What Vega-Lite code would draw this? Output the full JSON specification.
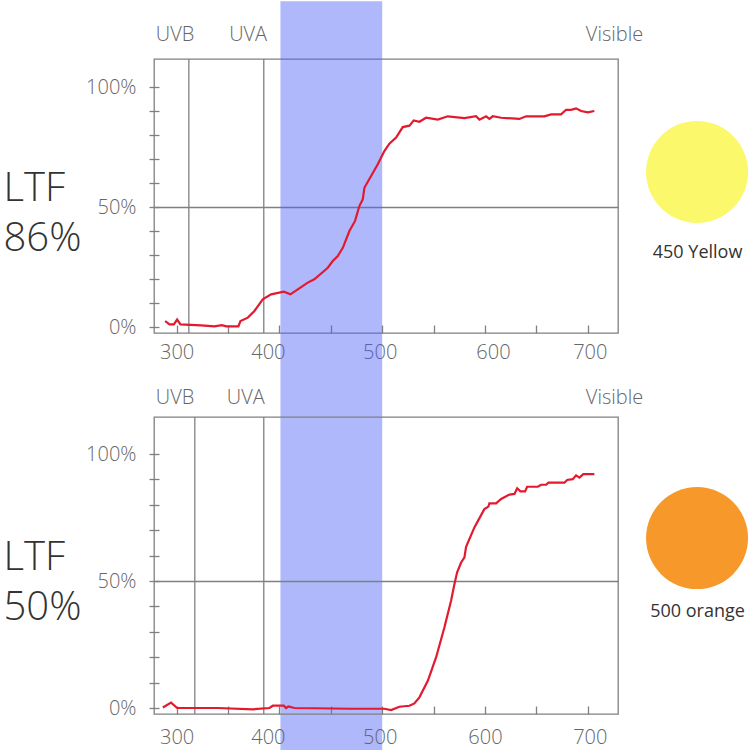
{
  "$schema": "https://vega.github.io/schema/vega-lite/v6.json",
  "background": "white",
  "padding": {"left": 2, "top": 0, "right": 0, "bottom": 0},
  "bounds": "flush",
  "spacing": 84,
  "config": {
    "view": {"stroke": "#808080", "strokeWidth": 1.3},
    "font": "Open Sans",
    "axis": {"labelFont": "Open Sans", "titleFont": "Open Sans"}
  },
  "datasets": {
    "band": [{"start": 401, "end": 500}],
    "top_bounds": [{"nm": 311.9}, {"nm": 384.8}],
    "bottom_bounds": [{"nm": 317.7}, {"nm": 384.8}],
    "top_labels": [{"nm": 298.5, "label": "UVB"}, {"nm": 369.6, "label": "UVA"}, {"nm": 726, "label": "Visible"}],
    "bottom_labels": [{"nm": 298.5, "label": "UVB"}, {"nm": 367.3, "label": "UVA"}, {"nm": 726, "label": "Visible"}],
    "top_curve": [
      {"nm": 288.8, "ltf": 2.5}, {"nm": 293, "ltf": 1.1}, {"nm": 297.3, "ltf": 1.1}, {"nm": 300.5, "ltf": 3.1},
      {"nm": 303.7, "ltf": 1.1}, {"nm": 323.8, "ltf": 0.7}, {"nm": 336.8, "ltf": 0.3}, {"nm": 344, "ltf": 0.8},
      {"nm": 348.2, "ltf": 0.3}, {"nm": 360.1, "ltf": 0.3}, {"nm": 362.1, "ltf": 2.5}, {"nm": 369.3, "ltf": 3.9},
      {"nm": 375.7, "ltf": 6.7}, {"nm": 383.8, "ltf": 11.5}, {"nm": 391.9, "ltf": 13.6}, {"nm": 404.3, "ltf": 14.7},
      {"nm": 410.7, "ltf": 13.6}, {"nm": 417.9, "ltf": 15.7}, {"nm": 427.6, "ltf": 18.5}, {"nm": 434, "ltf": 19.9},
      {"nm": 447.1, "ltf": 24.7}, {"nm": 451.9, "ltf": 27.5}, {"nm": 456.8, "ltf": 29.6}, {"nm": 461.7, "ltf": 33},
      {"nm": 468.1, "ltf": 40}, {"nm": 473.6, "ltf": 44.2}, {"nm": 477.8, "ltf": 50.4}, {"nm": 481.1, "ltf": 53.2},
      {"nm": 482.7, "ltf": 58}, {"nm": 489.2, "ltf": 62.9}, {"nm": 495.7, "ltf": 67.8}, {"nm": 502.1, "ltf": 73.3},
      {"nm": 507, "ltf": 76.4}, {"nm": 513.5, "ltf": 78.9}, {"nm": 515.8, "ltf": 80.5}, {"nm": 520, "ltf": 83.3},
      {"nm": 526.5, "ltf": 83.9}, {"nm": 530.7, "ltf": 86.1}, {"nm": 536.2, "ltf": 85.5}, {"nm": 542.7, "ltf": 87.2},
      {"nm": 554.1, "ltf": 86.4}, {"nm": 563.8, "ltf": 87.8}, {"nm": 580, "ltf": 87}, {"nm": 591.3, "ltf": 87.8},
      {"nm": 594.6, "ltf": 86.4}, {"nm": 601.1, "ltf": 87.8}, {"nm": 604.3, "ltf": 86.7}, {"nm": 607.6, "ltf": 87.8},
      {"nm": 615.7, "ltf": 87.2}, {"nm": 633.5, "ltf": 86.7}, {"nm": 640, "ltf": 87.8}, {"nm": 657.8, "ltf": 87.8},
      {"nm": 664.3, "ltf": 88.6}, {"nm": 674, "ltf": 88.6}, {"nm": 678.9, "ltf": 90.5}, {"nm": 683.8, "ltf": 90.5},
      {"nm": 688.6, "ltf": 91.1}, {"nm": 693.5, "ltf": 90}, {"nm": 700, "ltf": 89.4}, {"nm": 706.4, "ltf": 90}
    ],
    "bottom_curve": [
      {"nm": 286.6, "ltf": 0.2}, {"nm": 294.6, "ltf": 2.1}, {"nm": 300.5, "ltf": 0}, {"nm": 340.1, "ltf": 0},
      {"nm": 374.1, "ltf": -0.5}, {"nm": 390.3, "ltf": 0}, {"nm": 393.6, "ltf": 0.9}, {"nm": 404.3, "ltf": 0.9},
      {"nm": 406.5, "ltf": 0}, {"nm": 408.8, "ltf": 0.6}, {"nm": 414.6, "ltf": 0}, {"nm": 469.7, "ltf": -0.3},
      {"nm": 502.1, "ltf": -0.3}, {"nm": 508.7, "ltf": -0.8}, {"nm": 516.7, "ltf": 0.5}, {"nm": 526.5, "ltf": 0.9},
      {"nm": 531.3, "ltf": 1.8}, {"nm": 536.2, "ltf": 4.2}, {"nm": 544.4, "ltf": 10.7}, {"nm": 552.4, "ltf": 19.9},
      {"nm": 560.5, "ltf": 31.7}, {"nm": 567, "ltf": 42.2}, {"nm": 570.3, "ltf": 48.8}, {"nm": 572.9, "ltf": 53.4},
      {"nm": 576.8, "ltf": 57.3}, {"nm": 580, "ltf": 59.3}, {"nm": 581.6, "ltf": 63.5}, {"nm": 589.7, "ltf": 71.1},
      {"nm": 599.4, "ltf": 78.3}, {"nm": 603.3, "ltf": 79.3}, {"nm": 604.3, "ltf": 80.6}, {"nm": 610.8, "ltf": 80.6},
      {"nm": 615.7, "ltf": 82.3}, {"nm": 623.8, "ltf": 84}, {"nm": 628.7, "ltf": 84.3}, {"nm": 631.3, "ltf": 86.5},
      {"nm": 634.5, "ltf": 85.3}, {"nm": 639, "ltf": 85.3}, {"nm": 641, "ltf": 87.1}, {"nm": 651.4, "ltf": 87.1},
      {"nm": 654.6, "ltf": 87.9}, {"nm": 659.5, "ltf": 87.9}, {"nm": 661.7, "ltf": 88.7}, {"nm": 677.3, "ltf": 88.7},
      {"nm": 679.9, "ltf": 89.8}, {"nm": 685.4, "ltf": 90.1}, {"nm": 688.6, "ltf": 91.6}, {"nm": 691.9, "ltf": 90.7},
      {"nm": 695.7, "ltf": 92.1}, {"nm": 706.4, "ltf": 92.1}
    ],
    "top_swatch": [{"label": "450 Yellow"}],
    "bottom_swatch": [{"label": "500 orange"}]
  },
  "vconcat": [
    {
      "width": 464,
      "height": 274,
      "layer": [
        {
          "data": {"name": "band"},
          "mark": {"type": "rect", "color": "#4b61f6", "opacity": 0.45},
          "encoding": {
            "x": {
              "field": "start", "type": "quantitative",
              "scale": {"domain": [278, 729.4], "nice": false, "zero": false},
              "axis": {
                "title": null, "domain": false, "offset": -8, "tickSize": 8, "tickColor": "#808080", "tickWidth": 1.3,
                "values": [300, 350, 400, 450, 500, 550, 600, 650, 700],
                "labelExpr": "datum.value % 100 === 0 ? datum.value : ''",
                "labelFontSize": 20, "labelFontWeight": 300, "labelColor": "#666666", "labelPadding": 9.5,
                "labelOffset": {"condition": [{"test": "datum.value === 400", "value": -11.5}, {"test": "datum.value === 500", "value": -2.5}, {"test": "datum.value === 600", "value": 8}, {"test": "datum.value === 700", "value": 2}], "value": 0},
                "grid": false
              }
            },
            "x2": {"field": "end"},
            "y": {
              "datum": 135.7, "type": "quantitative",
              "scale": {"domain": [-2.5, 111.67], "nice": false, "zero": false},
              "axis": {
                "domain": false, "offset": -5, "tickSize": 10, "tickColor": "#808080", "tickWidth": 1.3,
                "values": [0, 10, 20, 30, 40, 50, 60, 70, 80, 90, 100],
                "labelExpr": "datum.value % 50 === 0 ? datum.value + '%' : ''",
                "labelFontSize": 20, "labelFontWeight": 300, "labelColor": "#666666", "labelPadding": 13,
                "grid": true, "gridColor": "#808080", "gridWidth": 1.3,
                "gridOpacity": {"condition": {"test": "datum.value === 50", "value": 1}, "value": 0},
                "title": ["LTF", "86%"], "titleAngle": 0, "titleAlign": "left", "titleBaseline": "alphabetic",
                "titleX": -156, "titleY": 141.6, "titleFontSize": 40, "titleFontWeight": 300, "titleColor": "#333333", "titleLineHeight": 50
              }
            },
            "y2": {"datum": -185}
          }
        },
        {
          "data": {"name": "top_bounds"},
          "mark": {"type": "rule", "color": "#808080", "strokeWidth": 1.3},
          "encoding": {
            "x": {"field": "nm", "type": "quantitative", "scale": {"domain": [278, 729.4], "nice": false, "zero": false}, "axis": {"values": [300, 350, 400, 450, 500, 550, 600, 650, 700]}}
          }
        },
        {
          "data": {"name": "top_curve"},
          "mark": {"type": "line", "color": "#e3192f", "strokeWidth": 2.2},
          "encoding": {
            "x": {"field": "nm", "type": "quantitative", "scale": {"domain": [278, 729.4], "nice": false, "zero": false}, "axis": {"values": [300, 350, 400, 450, 500, 550, 600, 650, 700]}},
            "y": {"field": "ltf", "type": "quantitative", "scale": {"domain": [-2.5, 111.67], "nice": false, "zero": false}, "axis": {"values": [0, 10, 20, 30, 40, 50, 60, 70, 80, 90, 100]}}
          }
        },
        {
          "data": {"name": "top_labels"},
          "mark": {"type": "text", "fontSize": 20, "fontWeight": 300, "color": "#666666", "align": "center", "baseline": "middle"},
          "encoding": {
            "x": {"field": "nm", "type": "quantitative", "scale": {"domain": [278, 729.4], "nice": false, "zero": false}, "axis": {"values": [300, 350, 400, 450, 500, 550, 600, 650, 700]}},
            "y": {"datum": 121.5, "type": "quantitative", "scale": {"domain": [-2.5, 111.67], "nice": false, "zero": false}, "axis": {"values": [0, 10, 20, 30, 40, 50, 60, 70, 80, 90, 100]}},
            "text": {"field": "label"}
          }
        },
        {
          "data": {"name": "top_swatch"},
          "mark": {"type": "point", "shape": "circle", "filled": true, "size": 10404, "color": "#fbf86b", "opacity": 1, "strokeWidth": 0},
          "encoding": {
            "x": {"datum": 806.3, "type": "quantitative", "scale": {"domain": [278, 729.4], "nice": false, "zero": false}, "axis": {"values": [300, 350, 400, 450, 500, 550, 600, 650, 700]}},
            "y": {"datum": 64.6, "type": "quantitative", "scale": {"domain": [-2.5, 111.67], "nice": false, "zero": false}, "axis": {"values": [0, 10, 20, 30, 40, 50, 60, 70, 80, 90, 100]}}
          }
        },
        {
          "data": {"name": "top_swatch"},
          "mark": {"type": "text", "fontSize": 18, "fontWeight": 400, "color": "#333333", "align": "center", "baseline": "middle"},
          "encoding": {
            "x": {"datum": 806.8, "type": "quantitative", "scale": {"domain": [278, 729.4], "nice": false, "zero": false}, "axis": {"values": [300, 350, 400, 450, 500, 550, 600, 650, 700]}},
            "y": {"datum": 30.8, "type": "quantitative", "scale": {"domain": [-2.5, 111.67], "nice": false, "zero": false}, "axis": {"values": [0, 10, 20, 30, 40, 50, 60, 70, 80, 90, 100]}},
            "text": {"field": "label"}
          }
        }
      ]
    },
    {
      "width": 464,
      "height": 297,
      "layer": [
        {
          "data": {"name": "bottom_bounds"},
          "mark": {"type": "rule", "color": "#808080", "strokeWidth": 1.3},
          "encoding": {
            "x": {
              "field": "nm", "type": "quantitative",
              "scale": {"domain": [278, 729.4], "nice": false, "zero": false},
              "axis": {
                "title": null, "domain": false, "offset": -8, "tickSize": 8, "tickColor": "#808080", "tickWidth": 1.3,
                "values": [300, 350, 400, 450, 500, 550, 600, 650, 700],
                "labelExpr": "datum.value % 100 === 0 ? datum.value : ''",
                "labelFontSize": 20, "labelFontWeight": 300, "labelColor": "#666666", "labelPadding": 13.5,
                "labelOffset": {"condition": [{"test": "datum.value === 400", "value": -11.5}, {"test": "datum.value === 500", "value": -2.5}, {"test": "datum.value === 700", "value": 2}], "value": 0},
                "grid": false
              }
            }
          }
        },
        {
          "data": {"name": "bottom_curve"},
          "mark": {"type": "line", "color": "#e3192f", "strokeWidth": 2.2},
          "encoding": {
            "x": {"field": "nm", "type": "quantitative", "scale": {"domain": [278, 729.4], "nice": false, "zero": false}, "axis": {"values": [300, 350, 400, 450, 500, 550, 600, 650, 700]}},
            "y": {
              "field": "ltf", "type": "quantitative",
              "scale": {"domain": [-2.36, 114.57], "nice": false, "zero": false},
              "axis": {
                "domain": false, "offset": -5, "tickSize": 10, "tickColor": "#808080", "tickWidth": 1.3,
                "values": [0, 10, 20, 30, 40, 50, 60, 70, 80, 90, 100],
                "labelExpr": "datum.value % 50 === 0 ? datum.value + '%' : ''",
                "labelFontSize": 20, "labelFontWeight": 300, "labelColor": "#666666", "labelPadding": 13,
                "grid": true, "gridColor": "#808080", "gridWidth": 1.3,
                "gridOpacity": {"condition": {"test": "datum.value === 50", "value": 1}, "value": 0},
                "title": ["LTF", "50%"], "titleAngle": 0, "titleAlign": "left", "titleBaseline": "alphabetic",
                "titleX": -156, "titleY": 152, "titleFontSize": 40, "titleFontWeight": 300, "titleColor": "#333333", "titleLineHeight": 50
              }
            }
          }
        },
        {
          "data": {"name": "bottom_labels"},
          "mark": {"type": "text", "fontSize": 20, "fontWeight": 300, "color": "#666666", "align": "center", "baseline": "middle"},
          "encoding": {
            "x": {"field": "nm", "type": "quantitative", "scale": {"domain": [278, 729.4], "nice": false, "zero": false}, "axis": {"values": [300, 350, 400, 450, 500, 550, 600, 650, 700]}},
            "y": {"datum": 122, "type": "quantitative", "scale": {"domain": [-2.36, 114.57], "nice": false, "zero": false}, "axis": {"values": [0, 10, 20, 30, 40, 50, 60, 70, 80, 90, 100]}},
            "text": {"field": "label"}
          }
        },
        {
          "data": {"name": "bottom_swatch"},
          "mark": {"type": "point", "shape": "circle", "filled": true, "size": 10404, "color": "#f7982a", "opacity": 1, "strokeWidth": 0},
          "encoding": {
            "x": {"datum": 806.3, "type": "quantitative", "scale": {"domain": [278, 729.4], "nice": false, "zero": false}, "axis": {"values": [300, 350, 400, 450, 500, 550, 600, 650, 700]}},
            "y": {"datum": 66.9, "type": "quantitative", "scale": {"domain": [-2.36, 114.57], "nice": false, "zero": false}, "axis": {"values": [0, 10, 20, 30, 40, 50, 60, 70, 80, 90, 100]}}
          }
        },
        {
          "data": {"name": "bottom_swatch"},
          "mark": {"type": "text", "fontSize": 18, "fontWeight": 400, "color": "#333333", "align": "center", "baseline": "middle"},
          "encoding": {
            "x": {"datum": 806.8, "type": "quantitative", "scale": {"domain": [278, 729.4], "nice": false, "zero": false}, "axis": {"values": [300, 350, 400, 450, 500, 550, 600, 650, 700]}},
            "y": {"datum": 37.9, "type": "quantitative", "scale": {"domain": [-2.36, 114.57], "nice": false, "zero": false}, "axis": {"values": [0, 10, 20, 30, 40, 50, 60, 70, 80, 90, 100]}},
            "text": {"field": "label"}
          }
        }
      ]
    }
  ]
}
